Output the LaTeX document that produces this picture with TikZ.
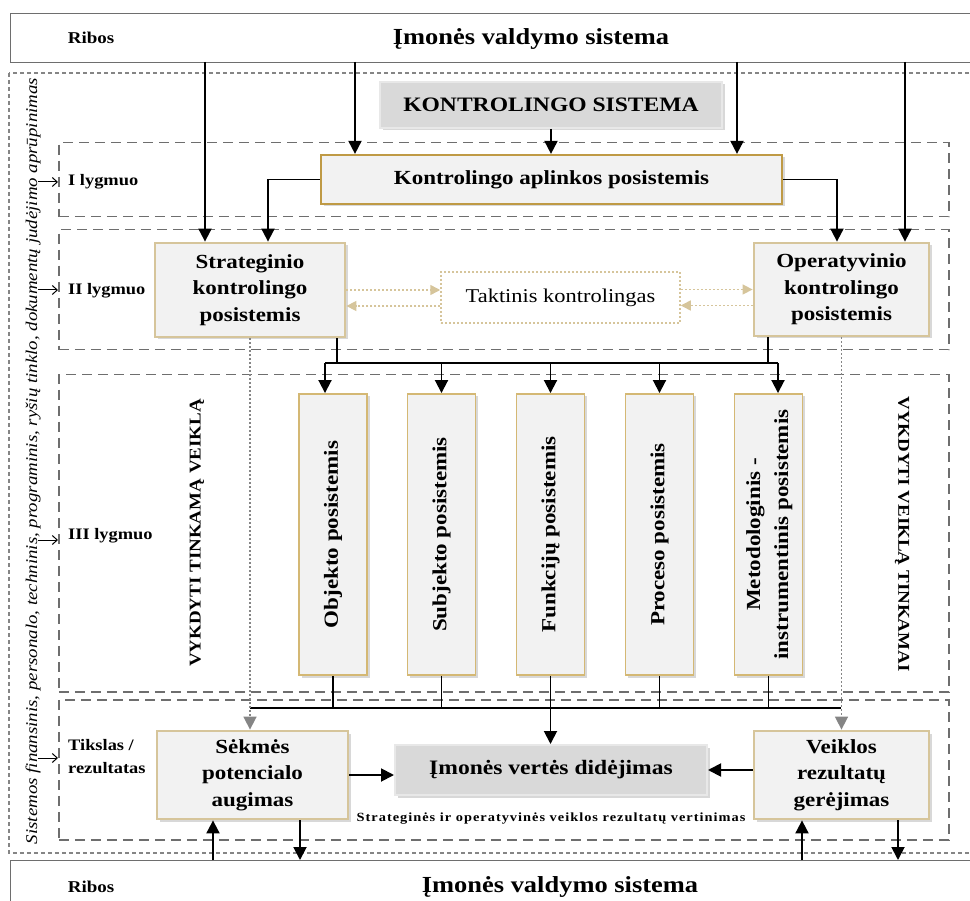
\documentclass[tikz,border=0pt]{standalone}
\usepackage{fontspec}
\usepackage{graphicx}
\setmainfont{Liberation Serif}[FakeStretch=1.15]
\usetikzlibrary{arrows.meta,shadows}

\definecolor{boxfill}{HTML}{F2F2F2}
\definecolor{tanline}{HTML}{D6C59B}
\definecolor{vline}{HTML}{D4B874}
\definecolor{goldline}{HTML}{BF9A45}
\definecolor{slab}{HTML}{D9D9D9}
\definecolor{slabline}{HTML}{E8E8E8}
\definecolor{frameline}{HTML}{6E6E6E}
\definecolor{dotline}{HTML}{858585}
\newcommand{\fsz}[2]{\fontsize{#1}{#2}\selectfont}

\begin{document}
\begin{tikzpicture}[x=1pt,y=-1pt,
  bar/.style={draw=frameline,line width=1.4pt,fill=white,anchor=north west,inner sep=0pt,minimum width=975pt},
  level/.style={draw=frameline,line width=1.5pt,dash pattern=on 10pt off 6pt,anchor=north west,inner sep=0pt,minimum width=890pt},
  lvltext/.style={anchor=west,font=\bfseries\fsz{16}{23},align=left,inner sep=0pt},
  shade/.style={drop shadow={shadow xshift=2.5pt,shadow yshift=-2.5pt,opacity=0.22,fill=black!70}},
  subbox/.style={draw=tanline,line width=2.8pt,fill=boxfill,inner sep=0pt,align=center,font=\bfseries\fsz{20}{26.5},shade},
  vsub/.style={draw=vline,line width=1.9pt,fill=boxfill,inner sep=0pt,align=center,font=\bfseries\fsz{20}{28},shade,minimum width=68pt,minimum height=281pt},
  slabbox/.style={draw=slabline,line width=2pt,fill=slab,inner sep=0pt,align=center,shade},
  conn/.style={draw=black,line width=1.9pt},
  arr/.style={conn,-{Triangle[length=13pt,width=13pt]}},
  sidearr/.style={draw=black,line width=1pt,-{Straight Barb[length=5pt,width=9pt]}},
  gdot/.style={draw=dotline,line width=1.6pt,dash pattern=on 2pt off 2pt,-{Triangle[length=13pt,width=13pt,fill=dotline]}},
  tdot/.style={draw=tanline,line width=1.5pt,dash pattern=on 2pt off 2pt,-{Triangle[length=10pt,width=10pt,fill=tanline]}},
  vtext/.style={font=\bfseries\fsz{16.5}{20},inner sep=0pt}
]
\useasboundingbox (0,0) rectangle (970,901);
\clip (0,0) rectangle (970,901);

% outer and inner system bars
\node[bar,minimum height=49pt] (topbar) at (10,13) {};
\node[bar,minimum height=60pt] (botbar) at (10,860) {};
\node[font=\bfseries\fsz{16.5}{20}] (ribosT) at (91,38) {Ribos};
\node[font=\bfseries\fsz{23}{28}] (imoneT) at (531,39) {Įmonės valdymo sistema};
\node[font=\bfseries\fsz{16.5}{20}] (ribosB) at (91,887) {Ribos};
\node[font=\bfseries\fsz{23}{28}] (imoneB) at (560,887) {Įmonės valdymo sistema};

% supporting frame
\draw[draw=dotline,line width=2pt,dash pattern=on 4pt off 3pt] (9,73) rectangle (990,853);
\node[rotate=90,font=\itshape\fsz{16.4}{20},inner sep=0pt] (side) at (33,461)
  {Sistemos finansinis, personalo, techninis, programinis, ryšių tinklo, dokumentų judėjimo aprūpinimas};

% levels
\node[level,minimum height=74pt] (lvl1) at (58,142) {};
\node[level,minimum height=120pt] (lvl2) at (58,229) {};
\node[level,minimum height=317pt] (lvl3) at (58,374) {};
\node[level,minimum height=140pt] (lvl4) at (58,699) {};
\node[lvltext] (l1) at (68,182) {I lygmuo};
\node[lvltext] (l2) at (68,291) {II lygmuo};
\node[lvltext] (l3) at (68,536) {III lygmuo};
\node[lvltext] (l4) at (68,757) {Tikslas /\\rezultatas};
\coordinate (s1) at (38,182);
\coordinate (s2) at (38,290);
\coordinate (s3) at (38,540);
\coordinate (s4) at (38,758);
\draw[sidearr] (s1) -- (s1 -| lvl1.west);
\draw[sidearr] (s2) -- (s2 -| lvl2.west);
\draw[sidearr] (s3) -- (s3 -| lvl3.west);
\draw[sidearr] (s4) -- (s4 -| lvl4.west);

% subsystems
\node[slabbox,minimum width=342pt,minimum height=46pt,font=\bfseries\fsz{20.5}{24}] (ks) at (551,105) {KONTROLINGO SISTEMA};
\node[subbox,draw=goldline,line width=2.2pt,minimum width=461pt,minimum height=49pt] (ap) at (551.5,179.5) {Kontrolingo aplinkos posistemis};
\node[subbox,minimum width=190pt,minimum height=94pt] (strat) at (250,290) {Strateginio\\kontrolingo\\posistemis};
\node[subbox,minimum width=175pt,minimum height=93pt] (oper) at (841.5,289.5) {Operatyvinio\\kontrolingo\\posistemis};
\node[draw=tanline,line width=1.5pt,dash pattern=on 2pt off 2pt,minimum width=239pt,minimum height=51pt,inner sep=0pt,font=\fsz{19.5}{24}] (takt) at (560.5,297.5) {Taktinis kontrolingas};

\node[vsub] (obj) at (333,534.5) {\rotatebox{90}{Objekto posistemis}};
\node[vsub] (subj) at (441.5,534.5) {\rotatebox{90}{Subjekto posistemis}};
\node[vsub] (fun) at (550.5,534.5) {\rotatebox{90}{Funkcijų posistemis}};
\node[vsub] (proc) at (659.5,534.5) {\rotatebox{90}{Proceso posistemis}};
\node[vsub] (met) at (768.5,534.5) {\rotatebox{90}{\begin{tabular}{@{}c@{}}Metodologinis -\\instrumentinis posistemis\end{tabular}}};

\node[vtext,rotate=90] (vl) at (197,533) {VYKDYTI TINKAMĄ VEIKLĄ};
\node[vtext,rotate=-90] (vr) at (902,534) {VYKDYTI VEIKLĄ TINKAMAI};

\node[subbox,minimum width=191pt,minimum height=88pt] (sek) at (252.5,775) {Sėkmės\\potencialo\\augimas};
\node[subbox,minimum width=175pt,minimum height=88pt] (vei) at (841.5,775) {Veiklos\\rezultatų\\gerėjimas};
\node[slabbox,minimum width=312pt,minimum height=50pt,font=\bfseries\fsz{20.5}{24}] (vert) at (551,770) {Įmonės vertės didėjimas};
\node[font=\bfseries\fsz{12.5}{15}\addfontfeature{LetterSpace=8}] (eval) at (551,819) {Strateginės ir operatyvinės veiklos rezultatų vertinimas};

% links from the management system
\coordinate (t1) at (205,62);
\coordinate (t2) at (355,62);
\coordinate (t3) at (737,62);
\coordinate (t4) at (905,62);
\draw[arr] (t1) -- (t1 |- strat.north);
\draw[arr] (t2) -- (t2 |- ap.north);
\draw[arr] (t3) -- (t3 |- ap.north);
\draw[arr] (t4) -- (t4 |- oper.north);
\draw[arr] (ks.south) -- (ks.south |- ap.north);
\draw[arr] (ap.west) -| ([xshift=18pt]strat.north);
\draw[arr] (ap.east) -| ([xshift=-4.5pt]oper.north);

% tactical controlling exchange
\coordinate (sA) at ([yshift=-16pt]strat.east);
\coordinate (oA) at ([yshift=-16pt]oper.west);
\draw[tdot] (strat.east) -- (strat.east -| takt.west);
\draw[tdot] (sA -| takt.west) -- (sA);
\draw[tdot] (oper.west -| takt.east) -- (oper.west);
\draw[tdot] (oA) -- (oA -| takt.east);

% distribution bus to level III
\coordinate (busL) at (325,363);
\coordinate (busR) at (778,363);
\draw[conn] ([xshift=87pt]strat.south) |- (busL);
\draw[conn] ([xshift=-73.5pt]oper.south) |- (busR);
\draw[conn] (busL) -- (busR);
\draw[arr] (busL) -- (busL |- obj.north);
\draw[arr] (subj.north |- busL) -- (subj.north);
\draw[arr] (fun.north |- busL) -- (fun.north);
\draw[arr] (proc.north |- busL) -- (proc.north);
\draw[arr] (busR) -- (busR |- met.north);

% collection bus to the result level
\coordinate (bbL) at (250,708);
\coordinate (bbR) at (841,708);
\draw[conn] (bbL) -- (bbR);
\draw[conn] (obj.south) -- (obj.south |- bbL);
\draw[conn] (subj.south) -- (subj.south |- bbL);
\draw[conn] (proc.south) -- (proc.south |- bbL);
\draw[conn] (met.south) -- (met.south |- bbL);
\draw[arr] (fun.south) -- (fun.south |- vert.north);

% dotted feeds to the results
\draw[gdot] (strat.south) -- (strat.south |- sek.north);
\draw[gdot] (oper.south) -- (oper.south |- vei.north);

% results to value growth
\draw[arr] (sek.east) -- (sek.east -| vert.west);
\draw[arr] (vert.east -| vei.west) -- (vert.east);

% exchange with the management system below
\coordinate (u1) at (213,860);
\coordinate (d1) at (300,860);
\coordinate (u2) at (802,860);
\coordinate (d2) at (898,860);
\draw[arr] (u1) -- (u1 |- sek.south);
\draw[arr] (d1 |- sek.south) -- (d1);
\draw[arr] (u2) -- (u2 |- vei.south);
\draw[arr] (d2 |- vei.south) -- (d2);
\end{tikzpicture}
\end{document}
